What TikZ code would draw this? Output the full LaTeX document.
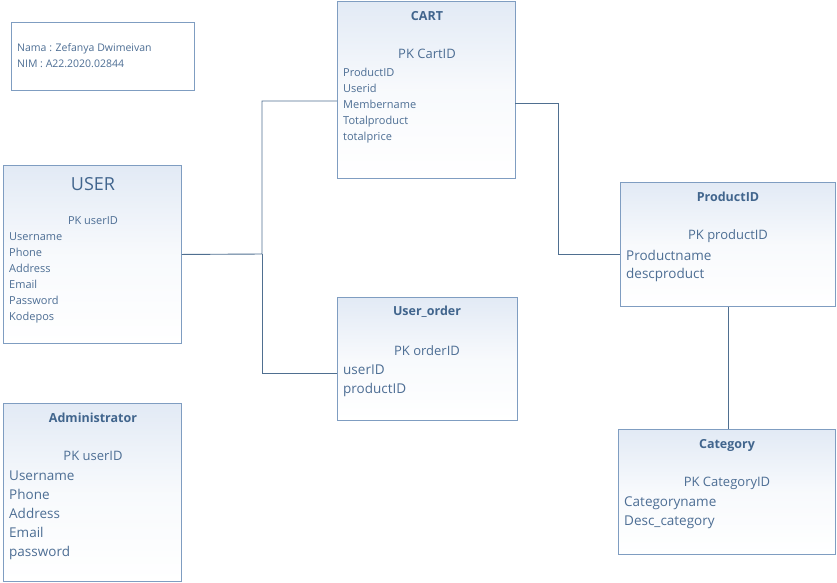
\documentclass[tikz,border=0pt]{standalone}
\usepackage{fontspec}
\setmainfont{Open Sans}
\usetikzlibrary{calc}
\definecolor{boxline}{HTML}{7F9DC1}
\definecolor{wireline}{HTML}{4F6F90}
\definecolor{txt}{HTML}{4D6E94}
\definecolor{titletxt}{HTML}{41658D}
\definecolor{boxshade}{HTML}{E2EAF5}

\begin{document}
\begin{tikzpicture}[x=1pt,y=-1pt,
        entity/.style={draw=boxline, line width=0.9pt, top color=boxshade, bottom color=white, middle color=white!75!boxshade, anchor=north west, inner sep=0pt},
        notebox/.style={draw=boxline, line width=0.9pt, fill=white, anchor=north west, inner sep=0pt},
        title/.style={font=\bfseries\fontsize{12.5}{15}\selectfont, text=titletxt, inner sep=0pt},
        pk/.style={font=\fontsize{13}{16}\selectfont, text=txt, inner sep=0pt},
        smallattr/.style={font=\fontsize{11}{16}\selectfont, text=txt, align=left, anchor=north west, inner sep=0pt},
        bigattr/.style={font=\fontsize{13.5}{19}\selectfont, text=txt, align=left, anchor=north west, inner sep=0pt},
        wire/.style={draw=wireline, line width=0.9pt}]
        \useasboundingbox (0,0) rectangle (837,582);

        \node at (11,22) [notebox, minimum width=183pt, minimum height=68pt] (note) {};
        \node at (17,43) [smallattr, font=\fontsize{10.5}{16}\selectfont] (notetext) {Nama : Zefanya Dwimeivan\\NIM : A22.2020.02844};

        \node at (337,1) [entity, minimum width=178pt, minimum height=177pt] (cart) {};
        \node at (427,16) [title] (carttitle) {CART};
        \node at (427,54) [pk] (cartpk) {PK CartID};
        \node at (343,68) [smallattr] (cartattr) {ProductID\\Userid\\Membername\\Totalproduct\\totalprice};

        \node at (3,165) [entity, minimum width=178pt, minimum height=178pt] (user) {};
        \node at (93,184) [title, font=\fontsize{18}{21}\selectfont] (usertitle) {USER};
        \node at (93,221) [pk, font=\fontsize{11}{14}\selectfont] (userpk) {PK userID};
        \node at (9,232) [smallattr] (userattr) {Username\\Phone\\Address\\Email\\Password\\Kodepos};

        \node at (337,297) [entity, minimum width=180pt, minimum height=123pt] (order) {};
        \node at (427,312) [title] (ordertitle) {User\_order};
        \node at (427,351) [pk] (orderpk) {PK orderID};
        \node at (343,365) [bigattr] (orderattr) {userID\\productID};

        \node at (620,182) [entity, minimum width=215pt, minimum height=124pt] (product) {};
        \node at (728,197) [title] (producttitle) {ProductID};
        \node at (728,236) [pk] (productpk) {PK productID};
        \node at (626,250) [bigattr, font=\fontsize{13.5}{18}\selectfont] (productattr) {Productname\\descproduct};

        \node at (3,403) [entity, minimum width=178pt, minimum height=178pt] (admin) {};
        \node at (93,418) [title] (admintitle) {Administrator};
        \node at (93,456) [pk] (adminpk) {PK userID};
        \node at (9,471) [bigattr] (adminattr) {Username\\Phone\\Address\\Email\\password};

        \node at (618,429) [entity, minimum width=217pt, minimum height=125pt] (category) {};
        \node at (727,445) [title] (categorytitle) {Category};
        \node at (727,483) [pk] (categorypk) {PK CategoryID};
        \node at (624,497) [bigattr] (categoryattr) {Categoryname\\Desc\_category};

        \coordinate (hub) at (262,254);
        \coordinate (cartin) at (337,101);
        \coordinate (orderin) at (337,373);
        \coordinate (cartout) at (515,103);
        \coordinate (bend) at (558,254);
        \coordinate (productin) at (620,254);
        \draw[wire] (user.east) -- (hub) |- (cartin);
        \draw[wire] (hub) |- (orderin);
        \draw[wire] (cartout) -| (bend) -- (productin);
        \draw[wire] (product.south) -- (product.south |- category.north);
\end{tikzpicture}
\end{document}
